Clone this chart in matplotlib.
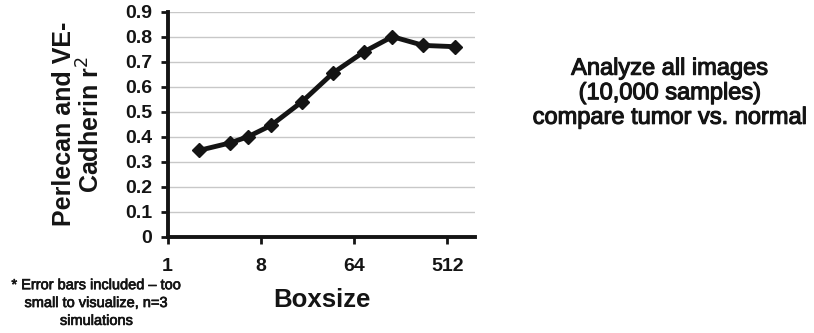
import matplotlib.pyplot as plt
import matplotlib.patheffects as pe
from matplotlib.ticker import NullLocator, FixedLocator

plt.rcParams['font.family'] = ['Liberation Sans', 'DejaVu Sans']

boxsize = [2, 4, 6, 10, 20, 40, 80, 150, 300, 600]
r2 = [0.345, 0.375, 0.40, 0.445, 0.54, 0.655, 0.74, 0.80, 0.765, 0.76]
xticks = [1, 8, 64, 512]
yticks = [0, 0.1, 0.2, 0.3, 0.4, 0.5, 0.6, 0.7, 0.8, 0.9]

ink = '#141414'
fig = plt.figure(figsize=(8.14, 3.33), dpi=100)
ax = fig.add_axes([0.206, 0.289, 0.378, 0.676])

ax.plot(boxsize, r2, color=ink, lw=3.5, marker='D', ms=7.5, zorder=3)

ax.set_xscale('log', base=2)
ax.set_xlim(1, 2 ** 9.9)
ax.set_ylim(0, 0.9)
ax.xaxis.set_major_locator(FixedLocator(xticks))
ax.xaxis.set_minor_locator(NullLocator())
ax.set_xticklabels([str(v) for v in xticks])
ax.set_yticks(yticks)
ax.set_yticklabels(['0'] + ['%.1f' % v for v in yticks[1:]])

ax.yaxis.grid(True, color='#c8c8c8', lw=1)
ax.set_axisbelow(True)
for s in ['top', 'right']:
    ax.spines[s].set_visible(False)
for s in ['left', 'bottom']:
    ax.spines[s].set_linewidth(2.8)
    ax.spines[s].set_color(ink)
ax.tick_params(width=2, length=5, labelsize=14, colors=ink)
ax.tick_params(axis='x', pad=10)
ax.tick_params(axis='y', pad=6)
for lab in ax.get_xticklabels() + ax.get_yticklabels():
    lab.set_fontweight('bold')

ax.set_ylabel('Perlecan and VE-\nCadherin r$^2$', fontsize=18, fontweight='bold',
              color=ink, labelpad=15, linespacing=1.05)
ax.set_xlabel('Boxsize', fontsize=18.5, fontweight='bold', color=ink, labelpad=10)

fig.text(0.119, 0.09, '* Error bars included \u2013 too\nsmall to visualize, n=3\nsimulations',
         ha='center', va='center', fontsize=10.5, color=ink, linespacing=1.35,
         path_effects=[pe.withStroke(linewidth=0.5, foreground=ink)])
fig.text(0.823, 0.72, 'Analyze all images\n(10,000 samples)\ncompare tumor vs. normal',
         ha='center', va='center', fontsize=17, color=ink, linespacing=1.15,
         path_effects=[pe.withStroke(linewidth=0.8, foreground=ink)])

fig.savefig('out.png', dpi=100)
